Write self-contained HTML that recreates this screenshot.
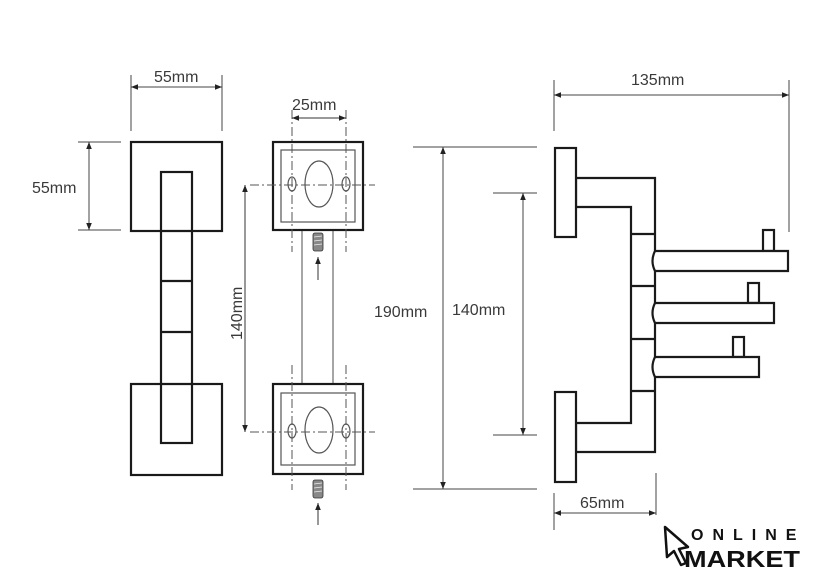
<!DOCTYPE html>
<html><head><meta charset="utf-8"><style>
html,body{margin:0;padding:0;background:#fff;}
svg{display:block;}
text{font-family:"Liberation Sans","DejaVu Sans",sans-serif;fill:#3a3a3a;}
</style></head><body>
<svg width="840" height="582" viewBox="0 0 840 582" xmlns="http://www.w3.org/2000/svg">
<defs>
<marker id="a" viewBox="0 0 10 10" refX="10" refY="5" markerWidth="7" markerHeight="7" orient="auto-start-reverse"><path d="M0,1 L10,5 L0,9 z" fill="#222"/></marker>
</defs>
<!-- LEFT VIEW -->
<g fill="none" stroke="#1a1a1a" stroke-width="2.2">
<rect x="131" y="142" width="91" height="89" fill="#fff"/>
<rect x="131" y="384" width="91" height="91" fill="#fff"/>
<rect x="161" y="172" width="31" height="271" fill="#fff"/>
<line x1="161" y1="231" x2="192" y2="231"/>
<line x1="161" y1="281" x2="192" y2="281"/>
<line x1="161" y1="332" x2="192" y2="332"/>
<line x1="161" y1="384" x2="192" y2="384"/>
</g>
<g stroke="#444" stroke-width="1" fill="none">
<line x1="131" y1="75" x2="131" y2="131"/><line x1="222" y1="75" x2="222" y2="131"/>
<line x1="131" y1="87" x2="222" y2="87" marker-start="url(#a)" marker-end="url(#a)"/>
<line x1="78" y1="142" x2="121" y2="142"/><line x1="78" y1="230" x2="121" y2="230"/>
<line x1="89" y1="142" x2="89" y2="230" marker-start="url(#a)" marker-end="url(#a)"/>
</g>
<text x="154" y="82" font-size="16">55mm</text>
<text x="32" y="193" font-size="16">55mm</text>

<!-- MIDDLE VIEW -->
<g stroke="#777" stroke-width="1.3">
<line x1="302" y1="229" x2="302" y2="384"/><line x1="333" y1="229" x2="333" y2="384"/>
</g>
<g fill="#fff" stroke="#1a1a1a" stroke-width="2.2">
<rect x="273" y="142" width="90" height="88"/>
<rect x="273" y="384" width="90" height="90"/>
</g>
<g fill="none" stroke="#555" stroke-width="1.2">
<rect x="281" y="150" width="74" height="72"/>
<rect x="281" y="393" width="74" height="72"/>
<ellipse cx="319" cy="184" rx="14" ry="23"/>
<ellipse cx="319" cy="430" rx="14" ry="23"/>
<ellipse cx="292" cy="184" rx="4" ry="7"/><ellipse cx="346" cy="184" rx="4" ry="7"/>
<ellipse cx="292" cy="431" rx="4" ry="7"/><ellipse cx="346" cy="431" rx="4" ry="7"/>
</g>
<g stroke="#555" stroke-width="1" stroke-dasharray="9,3,2,3" fill="none">
<line x1="250" y1="185" x2="375" y2="185"/>
<line x1="250" y1="432" x2="375" y2="432"/>
<line x1="292" y1="110" x2="292" y2="252"/><line x1="346" y1="110" x2="346" y2="252"/>
<line x1="292" y1="365" x2="292" y2="490"/><line x1="346" y1="365" x2="346" y2="490"/>
</g>
<g fill="#888" stroke="#333" stroke-width="0.8">
<rect x="313" y="233" width="10" height="18" rx="2"/>
<rect x="313" y="480" width="10" height="18" rx="2"/>
</g>
<g stroke="#eee" stroke-width="0.7">
<line x1="314" y1="237" x2="322" y2="236"/><line x1="314" y1="241" x2="322" y2="240"/><line x1="314" y1="245" x2="322" y2="244"/>
<line x1="314" y1="484" x2="322" y2="483"/><line x1="314" y1="488" x2="322" y2="487"/><line x1="314" y1="492" x2="322" y2="491"/>
</g>
<g stroke="#333" stroke-width="1" fill="none">
<line x1="318" y1="280" x2="318" y2="257" marker-end="url(#a)"/>
<line x1="318" y1="525" x2="318" y2="503" marker-end="url(#a)"/>
<line x1="245" y1="185" x2="245" y2="432" marker-start="url(#a)" marker-end="url(#a)"/>
<line x1="292" y1="118" x2="346" y2="118" marker-start="url(#a)" marker-end="url(#a)"/>
</g>
<text x="292" y="110" font-size="16">25mm</text>
<text x="0" y="0" font-size="16" transform="translate(242,340) rotate(-90)">140mm</text>

<!-- RIGHT VIEW -->
<g stroke="#444" stroke-width="1" fill="none">
<line x1="554" y1="80" x2="554" y2="131"/><line x1="789" y1="80" x2="789" y2="232"/>
<line x1="554" y1="95" x2="789" y2="95" marker-start="url(#a)" marker-end="url(#a)"/>
<line x1="413" y1="147" x2="537" y2="147"/><line x1="413" y1="489" x2="537" y2="489"/>
<line x1="443" y1="147" x2="443" y2="489" marker-start="url(#a)" marker-end="url(#a)"/>
<line x1="493" y1="193" x2="537" y2="193"/><line x1="493" y1="435" x2="537" y2="435"/>
<line x1="523" y1="193" x2="523" y2="435" marker-start="url(#a)" marker-end="url(#a)"/>
<line x1="554" y1="493" x2="554" y2="530"/><line x1="656" y1="473" x2="656" y2="515"/>
<line x1="554" y1="513" x2="656" y2="513" marker-start="url(#a)" marker-end="url(#a)"/>
</g>
<text x="631" y="85" font-size="16">135mm</text>
<text x="374" y="317" font-size="16">190mm</text>
<text x="452" y="315" font-size="16">140mm</text>
<text x="580" y="508" font-size="16">65mm</text>
<g fill="#fff" stroke="#1a1a1a" stroke-width="2.2">
<path d="M576,178 L655,178 L655,452 L576,452 L576,423 L631,423 L631,207 L576,207 Z"/>
<line x1="631" y1="234" x2="655" y2="234"/>
<line x1="631" y1="286" x2="655" y2="286"/>
<line x1="631" y1="339" x2="655" y2="339"/>
<line x1="631" y1="391" x2="655" y2="391"/>
<rect x="555" y="148" width="21" height="89"/>
<rect x="555" y="392" width="21" height="90"/>
<rect x="763" y="230" width="11" height="21"/>
<rect x="748" y="283" width="11" height="20"/>
<rect x="733" y="337" width="11" height="20"/>
<path d="M655,251 L788,251 L788,271 L655,271 Q650,261 655,251 Z"/>
<path d="M655,303 L774,303 L774,323 L655,323 Q650,313 655,303 Z"/>
<path d="M655,357 L759,357 L759,377 L655,377 Q650,367 655,357 Z"/>
</g>

<!-- LOGO -->
<path d="M665,527 L688,547 L679,549 L686,563 L681,565 L674,551 L667,557 Z" fill="none" stroke="#111" stroke-width="2.5" stroke-linejoin="round"/>
<text x="691" y="540" font-size="16" font-weight="bold" letter-spacing="9" style="fill:#111">ONLINE</text>
<text x="684" y="567" font-size="23" font-weight="bold" style="fill:#111" textLength="116" lengthAdjust="spacingAndGlyphs">MARKET</text>
</svg>
</body></html>
